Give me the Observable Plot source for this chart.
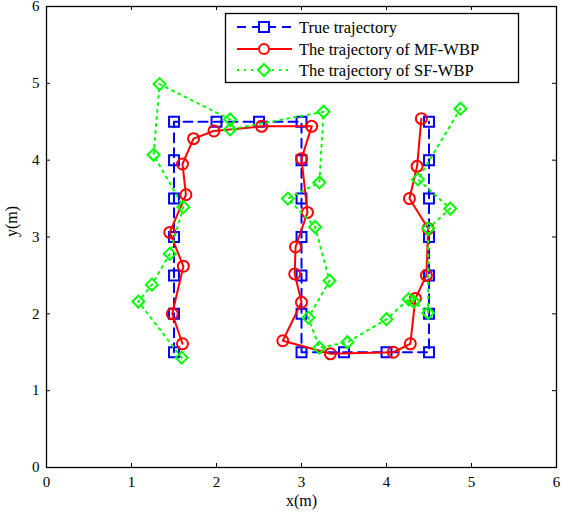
<!DOCTYPE html>
<html>
<head>
<meta charset="utf-8">
<script src="https://cdn.jsdelivr.net/npm/d3@7"></script>
<script src="https://cdn.jsdelivr.net/npm/@observablehq/plot@0.6"></script>
<style>
  body { margin: 0; background: #fff; }
  svg { font-family: "Liberation Serif", "Times New Roman", serif; overflow: visible; }
</style>
</head>
<body>
<div id="chart"></div>
<script>
const trueX = [1.5,1.5,1.5,1.5,1.5,1.5,1.5,2,2.5,3,3,3,3,3,3,3,3.5,4,4.5,4.5,4.5,4.5,4.5,4.5,4.5];
const trueY = [1.5,2,2.5,3,3.5,4,4.5,4.5,4.5,4.5,4,3.5,3,2.5,2,1.5,1.5,1.5,1.5,2,2.5,3,3.5,4,4.5];

const mfX = [1.6,1.48,1.61,1.45,1.64,1.6,1.73,1.97,2.53,3.12,3.0,3.07,2.93,2.92,3.0,2.78,3.34,4.08,4.28,4.34,4.47,4.49,4.27,4.36,4.41];
const mfY = [1.61,2.0,2.62,3.06,3.55,3.95,4.28,4.38,4.44,4.44,4.02,3.32,2.87,2.52,2.15,1.65,1.48,1.5,1.61,2.2,2.5,3.11,3.5,3.92,4.54];

const sfX = [1.59,1.08,1.24,1.45,1.61,1.26,1.33,2.16,2.16,3.26,3.21,2.84,3.16,3.33,3.08,3.21,3.54,4.0,4.26,4.32,4.49,4.49,4.75,4.37,4.87];
const sfY = [1.43,2.16,2.38,2.78,3.39,4.07,4.99,4.53,4.40,4.63,3.71,3.5,3.13,2.43,1.95,1.56,1.63,1.93,2.19,2.16,2.01,3.11,3.37,3.75,4.67];

const ticks = [0,1,2,3,4,5,6];
const legendLabels = ["True trajectory", "The trajectory of MF-WBP", "The trajectory of SF-WBP"];

const toRows = (xs, ys) => xs.map((x, i) => ({x, y: ys[i]}));
const trueData = toRows(trueX, trueY);
const mfData = toRows(mfX, mfY);
const sfData = toRows(sfX, sfY);

const W = 561, H = 514, mL = 46, mR = 5, mT = 6, mB = 47;
const pw = W - mL - mR, ph = H - mT - mB;

const BLUE = "#0000ff", RED = "#ff0000", GREEN = "#00ff00";

const chart = Plot.plot({
  width: W, height: H,
  marginLeft: mL, marginRight: mR, marginTop: mT, marginBottom: mB,
  style: {fontFamily: "'Liberation Serif', 'Times New Roman', serif", fontSize: "15px", background: "#fff", overflow: "visible"},
  x: {domain: [0, 6], ticks},
  y: {domain: [0, 6], ticks},
  marks: [
    Plot.axisX({ticks, tickSize: 0, tickPadding: 9, tickFormat: d => String(d), fontSize: 15, label: null}),
    Plot.axisY({ticks, tickSize: 0, tickPadding: 7, tickFormat: d => String(d), fontSize: 15, label: null}),
    Plot.tickX(ticks, {x: d => d, insetTop: ph - 4, stroke: "black"}),
    Plot.tickX(ticks, {x: d => d, insetBottom: ph - 4, stroke: "black"}),
    Plot.tickY(ticks, {y: d => d, insetRight: pw - 4, stroke: "black"}),
    Plot.tickY(ticks, {y: d => d, insetLeft: pw - 4, stroke: "black"}),
    Plot.line(trueData, {x: "x", y: "y", stroke: BLUE, strokeWidth: 2, strokeDasharray: "9,6"}),
    Plot.dot(trueData, {x: "x", y: "y", symbol: "square", r: 5.6, stroke: BLUE, strokeWidth: 2, fill: "none"}),
    Plot.line(mfData, {x: "x", y: "y", stroke: RED, strokeWidth: 2}),
    Plot.dot(mfData, {x: "x", y: "y", symbol: "circle", r: 5.5, stroke: RED, strokeWidth: 2, fill: "none"}),
    Plot.line(sfData, {x: "x", y: "y", stroke: GREEN, strokeWidth: 2, strokeDasharray: "2,5"}),
    Plot.dot(sfData, {x: "x", y: "y", symbol: "diamond2", r: 5.4, stroke: GREEN, strokeWidth: 2, fill: "none"}),
    Plot.frame({stroke: "black", strokeWidth: 1.3}),
    Plot.text(["x(m)"], {frameAnchor: "bottom", dy: 38, fontSize: 16, fill: "black"}),
    Plot.text(["y(m)"], {frameAnchor: "left", dx: -35, rotate: -90, fontSize: 16, fill: "black"})
  ]
});

// Legend
const svg = d3.select(chart);
const lg = svg.append("g")
  .attr("font-family", "'Liberation Serif', 'Times New Roman', serif")
  .attr("font-size", 16.5)
  .attr("text-anchor", "start");
lg.append("rect").attr("x", 225.5).attr("y", 13.5).attr("width", 293).attr("height", 69)
  .attr("fill", "white").attr("stroke", "black").attr("stroke-width", 1.3);
const rows = [27, 49, 70];
const styles = [
  {stroke: BLUE, dash: "9,6", sym: d3.symbolSquare, size: Math.PI * 5.6 * 5.6},
  {stroke: RED, dash: null, sym: d3.symbolCircle, size: Math.PI * 5 * 5},
  {stroke: GREEN, dash: "2,5", sym: d3.symbolDiamond2, size: Math.PI * 5.4 * 5.4}
];
legendLabels.forEach((lab, i) => {
  const y = rows[i], s = styles[i];
  lg.append("line").attr("x1", 237).attr("x2", 292).attr("y1", y).attr("y2", y)
    .attr("stroke", s.stroke).attr("stroke-width", 2).attr("stroke-dasharray", s.dash);
  lg.append("path").attr("d", d3.symbol(s.sym, s.size)()).attr("transform", `translate(264,${y})`)
    .attr("fill", "white").attr("stroke", s.stroke).attr("stroke-width", 2);
  lg.append("text").attr("x", 299).attr("y", y).attr("dy", "0.35em")
    .attr("text-anchor", "start").attr("fill", "black").text(lab);
});

document.getElementById("chart").appendChild(chart);
</script>
</body>
</html>
